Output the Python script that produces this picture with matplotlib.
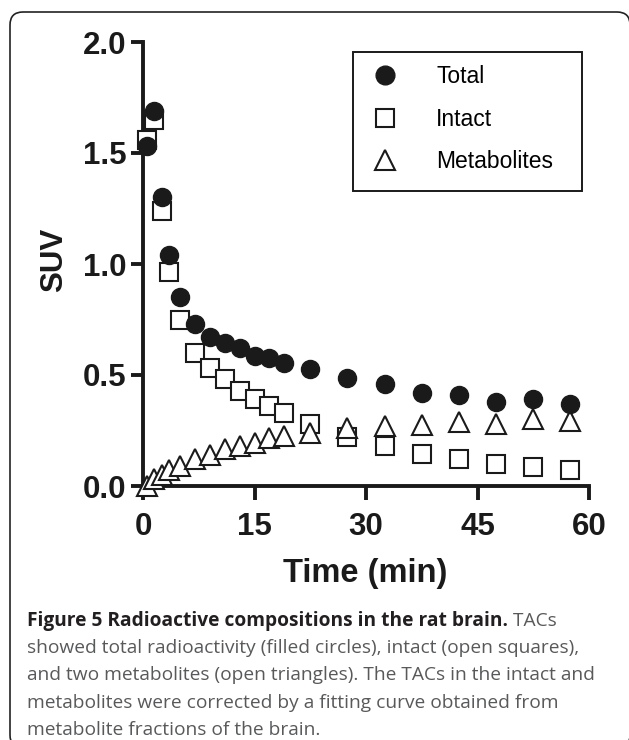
import matplotlib
matplotlib.use("Agg")
import matplotlib.pyplot as plt
from matplotlib.patches import FancyBboxPatch, Rectangle
from matplotlib.lines import Line2D
from matplotlib.transforms import IdentityTransform

time_min = [0.5, 1.5, 2.5, 3.5, 5, 7, 9, 11, 13, 15, 17, 19, 22.5, 27.5, 32.5, 37.5, 42.5, 47.5, 52.5, 57.5]
total = [1.53, 1.69, 1.30, 1.04, 0.85, 0.73, 0.67, 0.645, 0.62, 0.585, 0.575, 0.555, 0.525, 0.487, 0.46, 0.42, 0.41, 0.38, 0.39, 0.37]
intact = [1.56, 1.65, 1.24, 0.965, 0.75, 0.60, 0.53, 0.48, 0.43, 0.39, 0.36, 0.33, 0.28, 0.22, 0.18, 0.145, 0.12, 0.10, 0.085, 0.072]
metabolites = [0.0, 0.03, 0.05, 0.07, 0.09, 0.12, 0.14, 0.165, 0.18, 0.195, 0.215, 0.225, 0.24, 0.26, 0.27, 0.275, 0.29, 0.28, 0.30, 0.295]

series_labels = ["Total", "Intact", "Metabolites"]
x_ticks = [0, 15, 30, 45, 60]
y_ticks = [0.0, 0.5, 1.0, 1.5, 2.0]
x_label = "Time (min)"
y_label = "SUV"
caption_bold = "Figure 5 Radioactive compositions in the rat brain."
caption_lines = [
    " TACs",
    "showed total radioactivity (filled circles), intact (open squares),",
    "and two metabolites (open triangles). The TACs in the intact and",
    "metabolites were corrected by a fitting curve obtained from",
    "metabolite fractions of the brain.",
]

W, H = 629, 740
fig = plt.figure(figsize=(W / 100, H / 100), dpi=100)
INK = "#1a1a1a"


def fy(ypix):
    """top-down pixel row -> figure fraction"""
    return 1 - ypix / H


# outer rounded frame (right and bottom edges run off the image)
frame = FancyBboxPatch((10, H - 748), 620, 736,
                       boxstyle="round,pad=0,rounding_size=13",
                       transform=IdentityTransform(), fill=False,
                       edgecolor="#222222", linewidth=1.2, clip_on=False)
fig.patches.append(frame)

ax = fig.add_axes([143 / W, fy(486), 446 / W, 444 / H])
ms = 13
mew = 1.5
ax.plot(time_min, intact, linestyle="none", marker="s", markersize=ms - 0.5,
        markerfacecolor="white", markeredgecolor=INK, markeredgewidth=mew, clip_on=False, zorder=3)
ax.plot(time_min, metabolites, linestyle="none", marker="^", markersize=ms + 1,
        markerfacecolor="white", markeredgecolor=INK, markeredgewidth=mew, clip_on=False, zorder=3)
ax.plot(time_min, total, linestyle="none", marker="o", markersize=ms,
        markerfacecolor=INK, markeredgecolor=INK, markeredgewidth=1, clip_on=False, zorder=4)

ax.set_xlim(0, 60)
ax.set_ylim(0, 2.0)
ax.spines["top"].set_visible(False)
ax.spines["right"].set_visible(False)
for s in ("left", "bottom"):
    ax.spines[s].set_linewidth(2.8)
    ax.spines[s].set_color(INK)
ax.set_xticks(x_ticks)
ax.set_yticks(y_ticks)
ax.set_xticklabels([str(t) for t in x_ticks])
ax.set_yticklabels([f"{v:.1f}" for v in y_ticks])
ax.tick_params(direction="out", width=2.8, color=INK)
ax.tick_params(axis="x", length=10, pad=9)
ax.tick_params(axis="y", length=8.5, pad=3.5)
for lab in ax.get_xticklabels() + ax.get_yticklabels():
    lab.set_fontfamily("Liberation Sans")
    lab.set_fontweight("bold")
    lab.set_fontsize(22.5)
    lab.set_color(INK)
ax.patch.set_visible(False)

# axis titles placed at measured pixel positions
fig.text(365.5 / W, fy(582), x_label, ha="center", va="baseline",
         fontfamily="Liberation Sans", fontweight="bold", fontsize=23.5, color=INK)
fig.text(54 / W, fy(260), y_label, ha="center", va="center", rotation=90,
         fontfamily="Liberation Sans", fontweight="bold", fontsize=22.5, color=INK)

# legend: frame drawn at measured box, entries from the legend machinery
fig.patches.append(Rectangle((353 / W, fy(191)), (582 - 353) / W, (191 - 52) / H,
                             transform=fig.transFigure, fill=True, facecolor="white",
                             edgecolor=INK, linewidth=1.4, zorder=5))
handles = [
    Line2D([], [], linestyle="none", marker="o", markersize=ms + 0.5, markerfacecolor=INK, markeredgecolor=INK),
    Line2D([], [], linestyle="none", marker="s", markersize=ms, markerfacecolor="white", markeredgecolor=INK, markeredgewidth=mew),
    Line2D([], [], linestyle="none", marker="^", markersize=ms + 1, markerfacecolor="white", markeredgecolor=INK, markeredgewidth=mew),
]
leg = fig.legend(handles, series_labels, loc="upper left",
                 bbox_to_anchor=(353 / W, fy(52)),
                 frameon=False,
                 prop={"family": "Liberation Sans", "size": 16.5}, labelspacing=0.84,
                 handletextpad=1.45, borderpad=0.58, handlelength=1.6, borderaxespad=0)
leg.set_zorder(6)

# caption
cap_font = "Open Sans"
cap_size = 13.8
x0 = 27 / W
baselines = [626, 653.3, 680.5, 707.8, 735]
t = fig.text(x0, fy(baselines[0]), caption_bold, fontfamily=cap_font, fontweight="bold",
             fontsize=cap_size, color="#231f20", va="baseline")
fig.canvas.draw()
bb = t.get_window_extent()
fig.text(bb.x1 / W, fy(baselines[0]), caption_lines[0], fontfamily=cap_font,
         fontsize=cap_size, color="#58595b", va="baseline")
for line, yb in zip(caption_lines[1:], baselines[1:]):
    fig.text(x0, fy(yb), line, fontfamily=cap_font, fontsize=cap_size, color="#58595b", va="baseline")

fig.savefig("out.png", dpi=100)
